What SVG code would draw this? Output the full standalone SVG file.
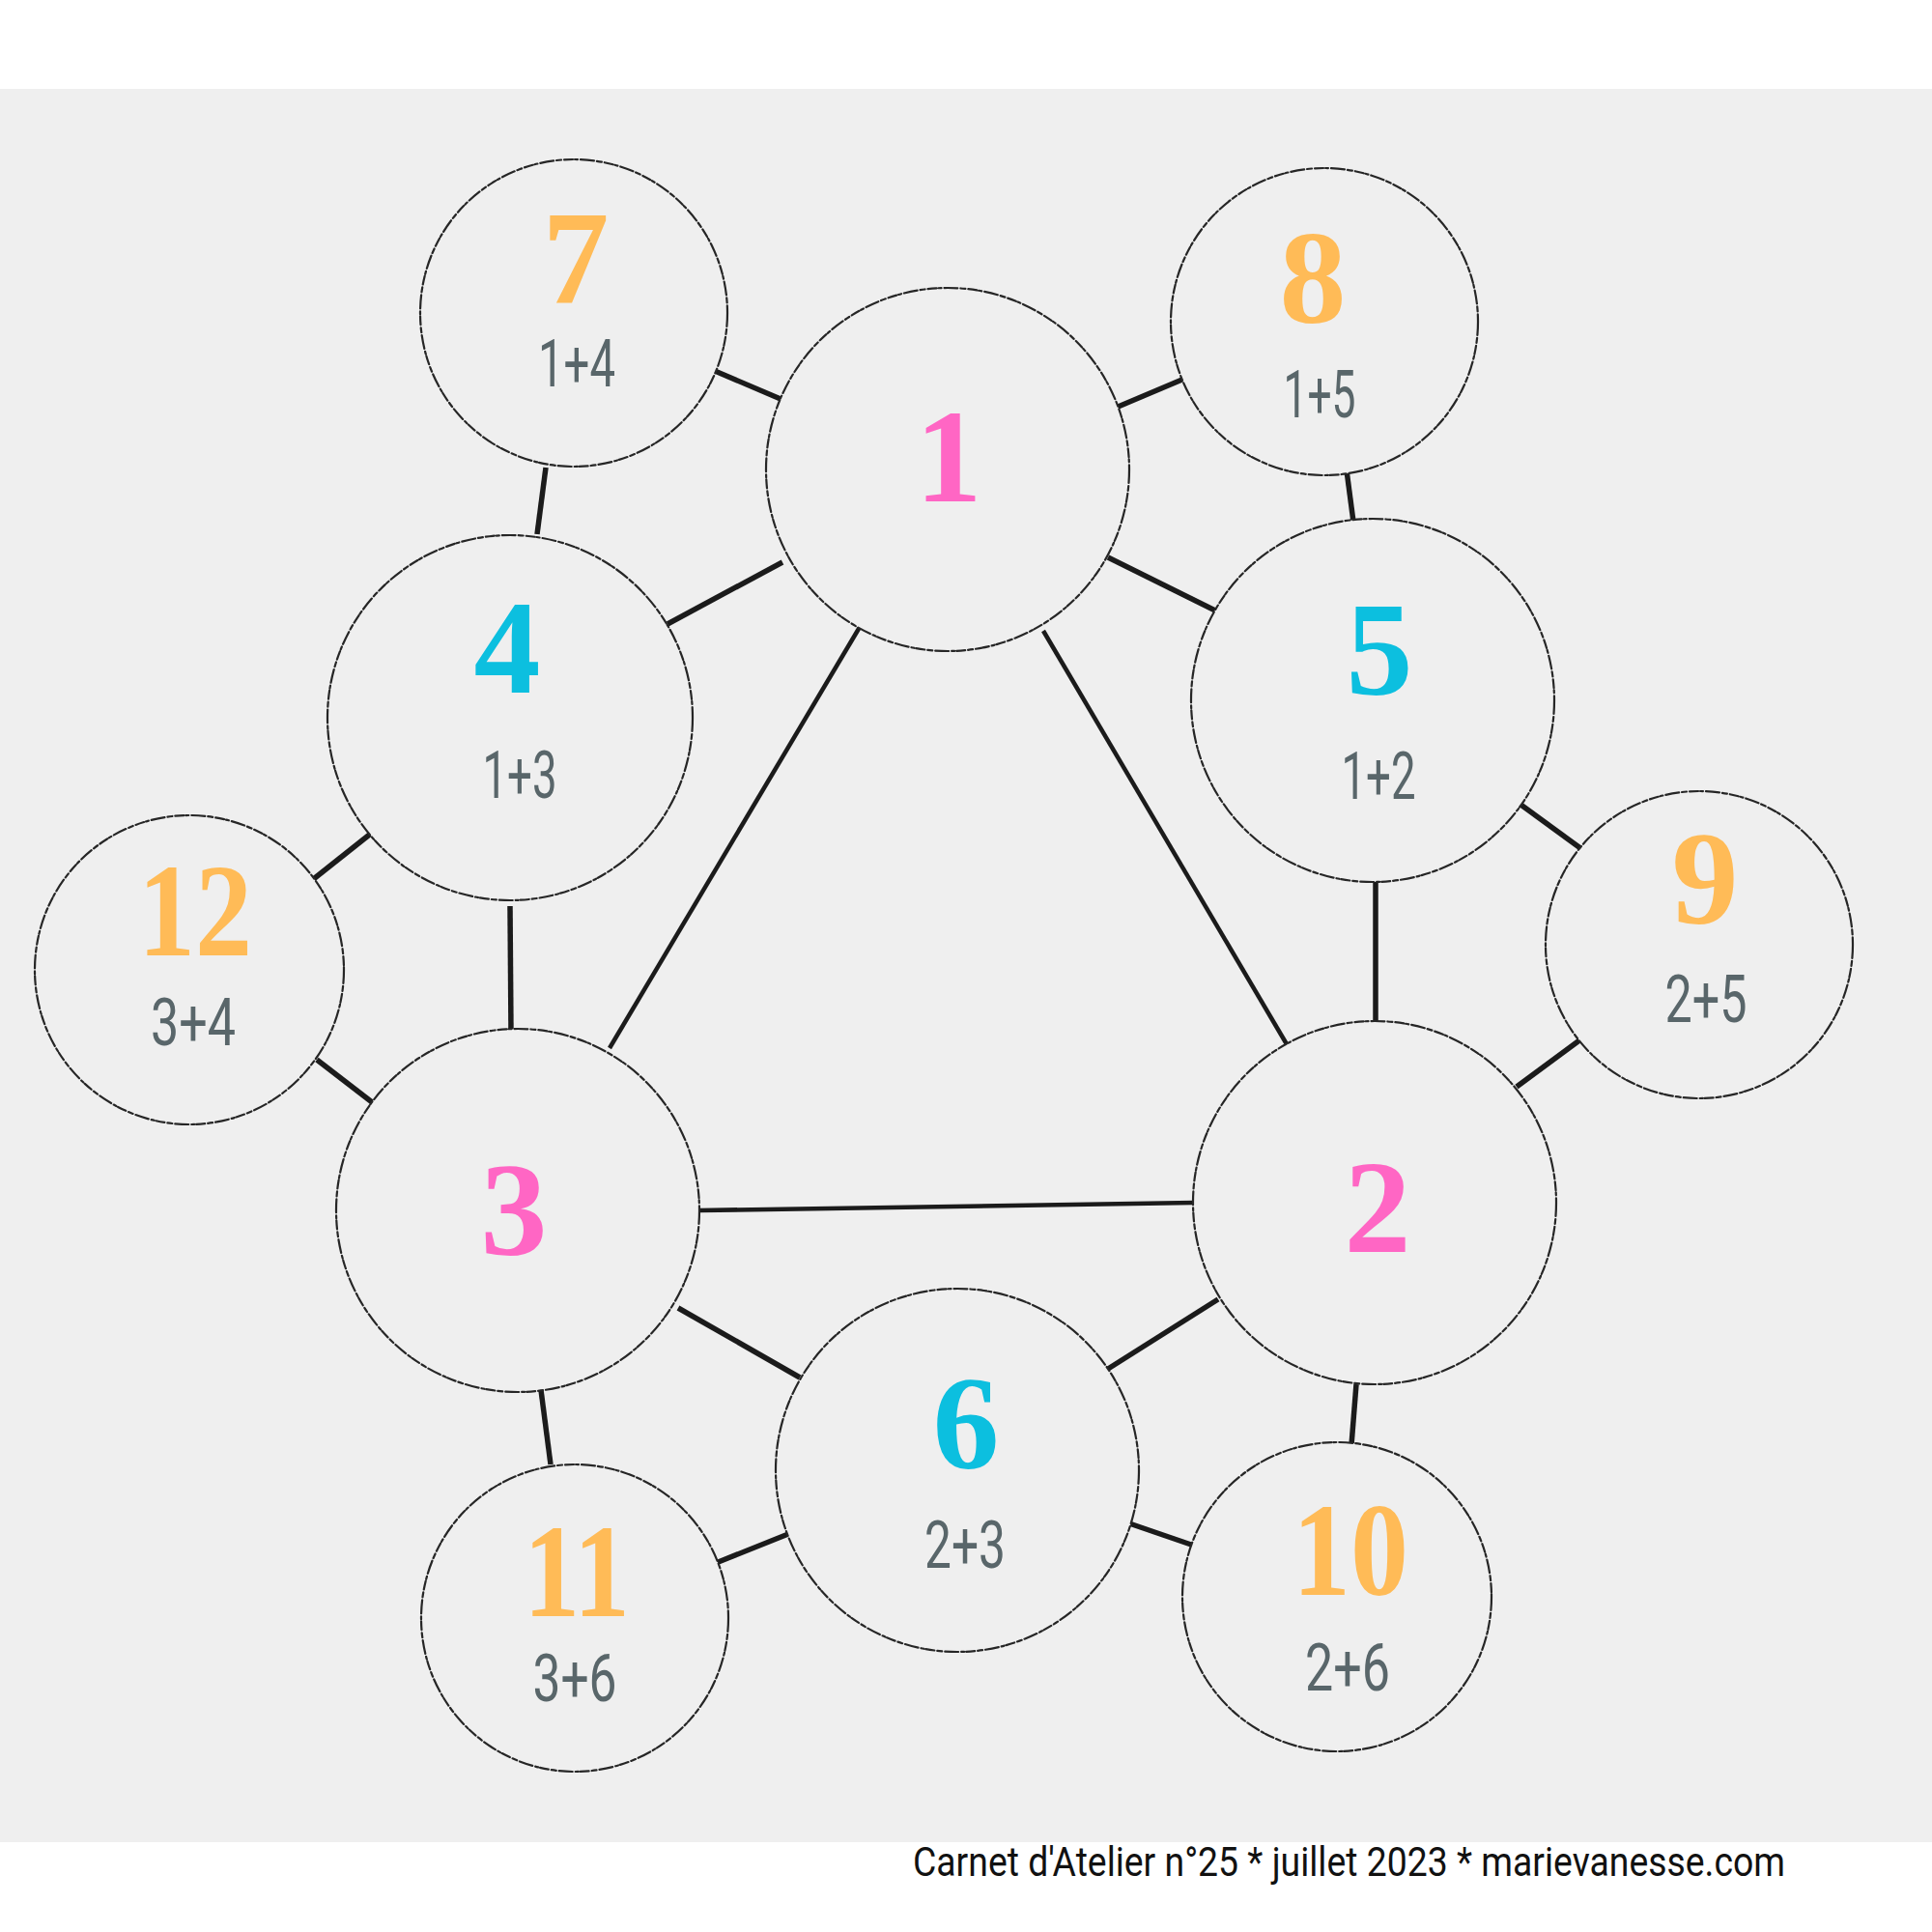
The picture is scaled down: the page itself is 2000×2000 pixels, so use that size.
<svg xmlns="http://www.w3.org/2000/svg" width="2000" height="2000" viewBox="0 0 2000 2000">
<style>
.bg{fill:#efefef}
.ring{fill:#efefef;stroke:#262626;stroke-width:2.2;stroke-dasharray:14 3 5 3 9 2 3 3;stroke-linecap:round}
.edge{stroke:#1b1b1b;stroke-width:5.5;stroke-linecap:butt;fill:none}
.edge.long{stroke-width:4.5}
.num{font-family:"Liberation Serif","DejaVu Serif",serif;font-weight:bold;font-size:138px;text-anchor:middle}
.pink{fill:#ff66c4}
.cyan{fill:#0cbfdf}
.orange{fill:#ffbb57}
.sub{font-family:Roboto,"Liberation Sans",sans-serif;font-weight:400;font-size:68px;fill:#59666a;text-anchor:middle}
.foot{font-family:Roboto,"Liberation Sans",sans-serif;font-size:42px;fill:#111}
</style>
<rect x="0" y="0" width="2000" height="2000" fill="#ffffff"/>
<rect class="bg" x="0" y="92" width="2000" height="1815"/>
<g id="connectors">
<line class="edge" x1="740" y1="384" x2="808" y2="413"/>
<line class="edge" x1="1155" y1="422" x2="1226" y2="392"/>
<line class="edge" x1="691" y1="646" x2="810" y2="582"/>
<line class="edge" x1="1147" y1="577" x2="1260" y2="633"/>
<line class="edge long" x1="893" y1="644" x2="631" y2="1085"/>
<line class="edge long" x1="1080" y1="653" x2="1332" y2="1081"/>
<line class="edge" x1="565" y1="484" x2="556" y2="553"/>
<line class="edge" x1="322" y1="912" x2="385" y2="862"/>
<line class="edge" x1="528" y1="938" x2="529" y2="1069"/>
<line class="edge" x1="328" y1="1097" x2="389" y2="1144"/>
<line class="edge long" x1="724" y1="1253" x2="1236" y2="1245"/>
<line class="edge" x1="702" y1="1354" x2="828" y2="1426"/>
<line class="edge" x1="560" y1="1439" x2="570" y2="1516"/>
<line class="edge" x1="741" y1="1618" x2="816" y2="1588"/>
<line class="edge" x1="1261" y1="1345" x2="1147" y2="1417"/>
<line class="edge" x1="1404" y1="1433" x2="1399" y2="1496"/>
<line class="edge" x1="1169" y1="1577" x2="1236" y2="1600"/>
<line class="edge" x1="1635" y1="1077" x2="1570" y2="1125"/>
<line class="edge" x1="1573" y1="832" x2="1636" y2="878"/>
<line class="edge" x1="1424" y1="912" x2="1424" y2="1058"/>
<line class="edge" x1="1394" y1="487" x2="1401" y2="540"/>
</g>
<g id="node1"><circle class="ring" cx="981" cy="486" r="188"/><text class="num pink" x="982" y="519">1</text></g>
<g id="node2"><circle class="ring" cx="1423" cy="1245" r="188"/><text class="num pink" x="1426" y="1296">2</text></g>
<g id="node3"><circle class="ring" cx="536" cy="1253" r="188"/><text class="num pink" x="532" y="1299">3</text></g>
<g id="node4"><circle class="ring" cx="528" cy="743" r="189"/><text class="num cyan" x="525" y="717">4</text><text class="sub" x="538" y="826" textLength="77" lengthAdjust="spacingAndGlyphs">1+3</text></g>
<g id="node5"><circle class="ring" cx="1421" cy="725" r="188"/><text class="num cyan" x="1428" y="719">5</text><text class="sub" x="1427" y="827" textLength="77" lengthAdjust="spacingAndGlyphs">1+2</text></g>
<g id="node6"><circle class="ring" cx="991" cy="1522" r="188"/><text class="num cyan" x="1000" y="1520">6</text><text class="sub" x="999" y="1623" textLength="84" lengthAdjust="spacingAndGlyphs">2+3</text></g>
<g id="node7"><circle class="ring" cx="594" cy="324" r="159"/><text class="num orange" x="596" y="313">7</text><text class="sub" x="597" y="400" textLength="80" lengthAdjust="spacingAndGlyphs">1+4</text></g>
<g id="node8"><circle class="ring" cx="1371" cy="333" r="159"/><text class="num orange" x="1359" y="334">8</text><text class="sub" x="1366" y="432" textLength="75" lengthAdjust="spacingAndGlyphs">1+5</text></g>
<g id="node9"><circle class="ring" cx="1759" cy="978" r="159"/><text class="num orange" x="1765" y="956">9</text><text class="sub" x="1766" y="1058" textLength="85" lengthAdjust="spacingAndGlyphs">2+5</text></g>
<g id="node10"><circle class="ring" cx="1384" cy="1653" r="160"/><text class="num orange" x="1398" y="1651" textLength="120" lengthAdjust="spacingAndGlyphs">10</text><text class="sub" x="1395" y="1750" textLength="88" lengthAdjust="spacingAndGlyphs">2+6</text></g>
<g id="node11"><circle class="ring" cx="595" cy="1675" r="159"/><text class="num orange" x="597" y="1673" textLength="110" lengthAdjust="spacingAndGlyphs">11</text><text class="sub" x="595" y="1761" textLength="87" lengthAdjust="spacingAndGlyphs">3+6</text></g>
<g id="node12"><circle class="ring" cx="196" cy="1004" r="160"/><text class="num orange" x="202" y="989" textLength="118" lengthAdjust="spacingAndGlyphs">12</text><text class="sub" x="200" y="1082" textLength="88" lengthAdjust="spacingAndGlyphs">3+4</text></g>
<text class="foot" x="945" y="1942" textLength="903" lengthAdjust="spacingAndGlyphs">Carnet d'Atelier n°25 * juillet 2023 * marievanesse.com</text>
</svg>
